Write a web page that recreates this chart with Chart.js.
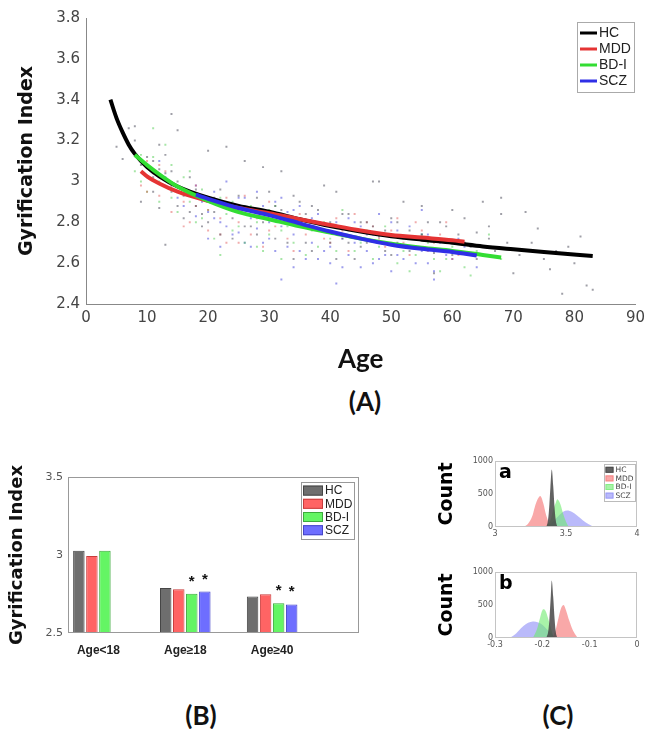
<!DOCTYPE html>
<html>
<head>
<meta charset="utf-8">
<script src="https://cdn.jsdelivr.net/npm/chart.js@4.4.1/dist/chart.umd.min.js"></script>
<style>
  html, body { margin: 0; padding: 0; background: #fff; }
  #page { position: relative; width: 650px; height: 729px; overflow: hidden; }
  canvas { position: absolute; }
  .tag { position: absolute; font-family: Lato, "Open Sans", sans-serif; font-weight: 700;
         font-size: 26px; color: #111; transform: translate(-50%, -50%); white-space: nowrap; }
</style>
</head>
<body>
<div id="page">
  <canvas id="chartA" width="650" height="375" style="left:0;top:0"></canvas>
  <div class="tag" style="left:365px;top:401px">(A)</div>
  <canvas id="chartB" width="370" height="215" style="left:0;top:450px"></canvas>
  <canvas id="chartCa" width="225" height="105" style="left:420px;top:440px"></canvas>
  <canvas id="chartCb" width="225" height="105" style="left:420px;top:551px"></canvas>
  <div class="tag" style="left:201px;top:715px">(B)</div>
  <div class="tag" style="left:558px;top:715px">(C)</div>
</div>
<script>
// ---------- (A) individual subjects: [age, gyrification index] ----------
const hcPts = [[5,3.17],[6,3.11],[7,3.26],[8,3.27],[8,3.20],[9,3.08],[9,2.90],[10,3.12],[10,3.02],[11,3.10],
  [11,2.95],[11,3.02],[12,3.06],[12,2.87],[12,3.18],[13,3.13],[13,3.04],[13,2.69],[14,3.33],[14,3.05],
  [14,2.95],[15,3.25],[15,2.88],[15,3.00],[16,2.93],[16,2.82],[17,2.85],[17,3.02],[18,2.96],[18,2.88],
  [19,2.84],[19,2.78],[20,3.15],[20,2.80],[21,2.92],[21,2.85],[22,2.74],[22,2.96],[23,3.17],[23,2.88],
  [24,2.82],[24,2.72],[25,2.93],[25,2.86],[26,3.10],[26,2.78],[27,2.85],[27,2.78],[28,2.92],[28,2.74],
  [29,3.07],[29,2.80],[30,2.83],[30,2.95],[31,2.72],[31,2.88],[32,3.05],[32,2.86],[33,2.70],[33,2.80],
  [34,2.93],[34,2.62],[35,2.80],[35,2.90],[36,2.70],[36,2.84],[37,2.88],[37,2.66],[38,2.76],[38,2.86],
  [39,2.98],[40,2.80],[40,2.70],[41,2.95],[41,2.62],[42,2.72],[42,2.84],[43,2.84],[43,2.70],[44,2.76],
  [44,2.62],[45,2.68],[45,2.80],[46,2.80],[46,2.70],[47,3.00],[47,2.78],[48,3.00],[48,2.73],[49,2.66],
  [49,2.76],[50,2.82],[50,2.64],[51,2.70],[51,2.80],[52,2.90],[53,2.76],[53,2.66],[54,2.68],[55,2.88],
  [55,2.74],[56,2.72],[56,2.80],[57,2.65],[57,2.55],[58,2.80],[59,2.70],[59,2.78],[60,2.86],[60,2.64],
  [61,2.74],[62,2.82],[62,2.70],[63,2.68],[64,2.75],[64,2.62],[65,2.90],[66,2.72],[66,2.78],[67,2.66],
  [68,2.92],[68,2.84],[69,2.70],[70,2.55],[71,2.64],[72,2.85],[73,2.70],[74,2.77],[75,2.62],[76,2.57],
  [77,2.66],[78,2.45],[79,2.68],[80,2.60],[81,2.73],[82,2.49],[83,2.47]];
const mddPts = [[9,2.98],[10,3.10],[10,2.95],[11,3.04],[12,2.93],[12,3.08],[13,3.05],[14,2.85],[14,2.98],
  [15,2.95],[16,2.90],[16,2.78],[17,2.80],[18,2.88],[18,2.98],[19,2.93],[20,2.76],[20,2.86],[21,2.90],
  [22,2.82],[22,2.74],[23,2.70],[23,2.92],[24,2.86],[25,2.80],[25,2.70],[26,2.93],[27,2.74],[27,2.86],
  [28,2.82],[29,2.68],[30,2.90],[30,2.76],[31,2.78],[32,2.84],[33,2.72],[34,2.66],[35,2.84],[36,2.74],
  [37,2.80],[38,2.80],[39,2.72],[40,2.70],[41,2.82],[42,2.76],[43,2.66],[44,2.84],[45,2.72],[46,2.80],
  [47,2.78],[48,2.72],[49,2.68],[50,2.76],[51,2.82],[52,2.70],[53,2.64],[54,2.80],[55,2.76],[56,2.66],
  [57,2.70],[58,2.74],[59,2.80],[60,2.62],[61,2.64],[62,2.70]];
const bdPts = [[8,3.05],[9,3.13],[9,3.00],[10,3.08],[10,2.95],[11,3.26],[11,3.12],[12,3.00],[12,2.90],
  [13,3.18],[14,3.08],[14,2.92],[15,2.85],[16,3.02],[17,2.90],[17,3.05],[18,2.80],[19,2.96],[19,2.82],
  [20,2.86],[21,2.72],[22,2.64],[22,2.92],[23,2.84],[24,2.90],[24,2.76],[25,2.78],[26,2.70],[26,2.86],
  [27,2.88],[28,2.80],[28,2.68],[29,2.66],[30,2.74],[30,2.86],[31,2.88],[32,2.62],[32,2.76],[33,2.78],
  [34,2.70],[34,2.82],[35,2.82],[36,2.64],[36,2.78],[37,2.76],[38,2.68],[39,2.80],[40,2.72],[41,2.66],
  [42,2.86],[43,2.76],[44,2.66],[45,2.70],[46,2.76],[47,2.62],[48,2.68],[49,2.78],[50,2.70],[51,2.60],
  [52,2.66],[53,2.56],[54,2.64],[55,2.74],[56,2.70],[57,2.62],[58,2.56],[59,2.62],[60,2.68],[61,2.66],
  [62,2.58],[63,2.54],[64,2.66],[66,2.74],[68,2.62]];
const sczPts = [[12,3.10],[13,3.02],[14,2.98],[15,2.92],[16,2.88],[17,2.95],[18,2.83],[18,2.98],[19,2.90],
  [20,2.85],[20,2.72],[21,2.95],[21,2.82],[22,2.80],[22,2.68],[23,3.00],[23,2.78],[24,2.86],[24,2.74],
  [25,2.75],[25,2.92],[26,2.92],[26,2.70],[27,2.82],[27,2.68],[28,2.95],[28,2.77],[29,2.88],[29,2.70],
  [30,2.80],[30,2.72],[31,2.90],[31,2.66],[32,2.78],[32,2.52],[32,2.92],[33,2.85],[33,2.68],[34,2.74],
  [34,2.58],[34,2.86],[35,2.88],[35,2.66],[36,2.78],[36,2.62],[37,2.70],[37,2.82],[38,2.84],[38,2.62],
  [39,2.76],[39,2.66],[40,2.68],[40,2.60],[41,2.80],[41,2.50],[42,2.72],[42,2.58],[43,2.82],[43,2.64],
  [44,2.70],[44,2.80],[45,2.78],[45,2.58],[46,2.66],[46,2.74],[47,2.74],[47,2.60],[48,2.84],[48,2.62],
  [49,2.70],[49,2.64],[50,2.80],[50,2.56],[51,2.64],[51,2.76],[52,2.72],[52,2.62],[53,2.78],[53,2.68],
  [54,2.60],[55,2.86],[55,2.66],[55,2.74],[56,2.74],[56,2.60],[57,2.56],[57,2.52],[58,2.70],[59,2.64],
  [60,2.62],[61,2.72],[62,2.68],[64,2.58]];

// ---------- (A) fitted curves ----------
const hcAge  = [4, 5, 6, 7, 8, 10, 12, 15, 20, 25, 30, 35, 40, 45, 50, 55, 60, 65, 70, 75, 83];
const hcFit  = [3.40, 3.31, 3.24, 3.18, 3.135, 3.07, 3.025, 2.975, 2.92, 2.88, 2.852, 2.815, 2.782, 2.755, 2.732, 2.715, 2.70, 2.682, 2.668, 2.655, 2.635];
const mddAge = [9, 10, 12, 15, 20, 25, 30, 35, 40, 45, 50, 55, 60, 62];
const mddFit = [3.05, 3.025, 2.99, 2.95, 2.905, 2.87, 2.845, 2.815, 2.787, 2.76, 2.738, 2.725, 2.712, 2.705];
const bdAge  = [8, 10, 12, 15, 20, 25, 30, 35, 40, 45, 50, 55, 60, 65, 68];
const bdFit  = [3.13, 3.08, 3.035, 2.975, 2.905, 2.85, 2.815, 2.78, 2.75, 2.72, 2.695, 2.675, 2.66, 2.64, 2.628];
const sczAge = [18, 20, 25, 30, 35, 40, 45, 50, 55, 60, 64];
const sczFit = [2.935, 2.915, 2.87, 2.835, 2.795, 2.755, 2.72, 2.69, 2.67, 2.655, 2.637];

// ---------- (B) group means ----------
const ageGroups = ['Age<18', 'Age\u226518', 'Age\u226540'];
const groupPos  = [1, 2, 3];
const barHC  = [3.027, 2.789, 2.734];
const barMDD = [2.994, 2.780, 2.749];
const barBD  = [3.027, 2.751, 2.690];
const barSCZ = [null, 2.766, 2.683];
const sigBD  = [false, true, true];
const sigSCZ = [false, true, true];

// ---------- (C) permutation histograms: [value, count] ----------
const histA_HC  = [[3.36,0],[3.37,60],[3.38,250],[3.39,600],[3.40,870],[3.41,620],[3.42,280],[3.43,70],[3.44,0]];
const histA_MDD = [[3.20,0],[3.23,40],[3.26,150],[3.28,300],[3.30,420],[3.32,470],[3.34,360],[3.36,180],[3.38,50],[3.39,0]];
const histA_BD  = [[3.36,0],[3.39,100],[3.41,260],[3.43,380],[3.44,420],[3.46,350],[3.48,200],[3.50,80],[3.52,0]];
const histA_SCZ = [[3.36,0],[3.40,60],[3.44,150],[3.48,230],[3.51,250],[3.54,230],[3.58,170],[3.62,100],[3.66,40],[3.70,0]];
const histB_HC  = [[-0.192,0],[-0.188,80],[-0.185,300],[-0.182,650],[-0.180,870],[-0.177,620],[-0.174,280],[-0.171,60],[-0.168,0]];
const histB_MDD = [[-0.178,0],[-0.172,120],[-0.166,300],[-0.160,460],[-0.155,500],[-0.150,420],[-0.143,260],[-0.135,110],[-0.127,20],[-0.122,0]];
const histB_BD  = [[-0.220,0],[-0.212,120],[-0.205,300],[-0.199,430],[-0.194,420],[-0.188,300],[-0.182,150],[-0.176,0]];
const histB_SCZ = [[-0.270,0],[-0.260,40],[-0.250,110],[-0.240,180],[-0.230,230],[-0.220,250],[-0.210,240],[-0.200,200],[-0.190,130],[-0.180,60],[-0.172,0]];

Chart.defaults.font.family = '"DejaVu Sans", sans-serif';
Chart.defaults.animation = false;
Chart.defaults.plugins.legend.display = false;
Chart.defaults.plugins.tooltip.enabled = false;

const xy = (arr) => arr.map(p => ({ x: p[0], y: p[1] }));
const zip = (xs, ys) => xs.map((x, i) => ({ x: x, y: ys[i] }));
const num = (v) => String(+(+v).toFixed(2));

// box round the plot area (MATLAB "box on")
const frame = {
  id: 'frame',
  afterDatasetsDraw(chart, args, o) {
    if (!o.color) return;
    const { left, top, right, bottom } = chart.chartArea;
    const ctx = chart.ctx;
    ctx.save();
    ctx.strokeStyle = o.color;
    ctx.lineWidth = 1;
    ctx.strokeRect(left + 0.5, top + 0.5, right - left - 1, bottom - top - 1);
    ctx.restore();
  }
};

// legend drawn inside the plot, top right, with a thin border
const boxLegend = {
  id: 'boxLegend',
  afterDatasetsDraw(chart, args, o) {
    if (!o.font) return;
    const items = chart.data.datasets.filter(d => d.legendItem);
    const ctx = chart.ctx;
    ctx.save();
    ctx.font = o.font;
    let tw = 0;
    items.forEach(d => { tw = Math.max(tw, ctx.measureText(d.label).width); });
    const w = Math.round(o.pad * 2 + o.swatch[0] + o.gap + tw);
    const h = Math.round(o.pad * 2 + items.length * o.row);
    const x0 = Math.round(chart.chartArea.right - o.dx - w);
    const y0 = Math.round(chart.chartArea.top + o.dy);
    ctx.fillStyle = '#fff';
    ctx.fillRect(x0, y0, w, h);
    ctx.strokeStyle = o.border;
    ctx.lineWidth = 1;
    ctx.strokeRect(x0 + 0.5, y0 + 0.5, w, h);
    items.forEach((d, i) => {
      const cy = y0 + o.pad + i * o.row + o.row / 2;
      const sx = x0 + o.pad;
      if (o.kind === 'line') {
        ctx.strokeStyle = d.borderColor;
        ctx.lineWidth = o.swatch[1];
        ctx.beginPath();
        ctx.moveTo(sx, cy);
        ctx.lineTo(sx + o.swatch[0], cy);
        ctx.stroke();
      } else {
        ctx.fillStyle = d.backgroundColor;
        ctx.fillRect(sx, cy - o.swatch[1] / 2, o.swatch[0], o.swatch[1]);
        ctx.strokeStyle = d.borderColor || '#666';
        ctx.lineWidth = 1;
        ctx.strokeRect(sx + 0.5, cy - o.swatch[1] / 2 + 0.5, o.swatch[0] - 1, o.swatch[1] - 1);
      }
      ctx.fillStyle = o.color;
      ctx.textBaseline = 'middle';
      ctx.fillText(d.label, sx + o.swatch[0] + o.gap, cy + 0.5);
    });
    ctx.restore();
  }
};

// asterisks over significant bars
const sigMarks = {
  id: 'sigMarks',
  afterDatasetsDraw(chart) {
    const ctx = chart.ctx;
    chart.data.datasets.forEach((d, di) => {
      if (!d.sig) return;
      chart.getDatasetMeta(di).data.forEach((bar, j) => {
        if (!d.sig[j]) return;
        ctx.save();
        ctx.fillStyle = '#111';
        ctx.font = 'bold 15px "Liberation Sans"';
        ctx.textAlign = 'center';
        ctx.fillText('*', bar.x, bar.y - 8);
        ctx.restore();
      });
    });
  }
};

// small letter in the plot corner (a / b)
const cornerTag = {
  id: 'cornerTag',
  afterDraw(chart, args, o) {
    if (!o.text) return;
    const ctx = chart.ctx;
    ctx.save();
    ctx.fillStyle = '#000';
    ctx.font = 'bold 19px "DejaVu Sans"';
    ctx.fillText(o.text, chart.chartArea.left + 4, chart.chartArea.top + 17);
    ctx.restore();
  }
};

// ================= (A) =================
function dots(label, pts, color) {
  return { label: label, data: xy(pts), backgroundColor: color, borderWidth: 0,
           pointStyle: 'rect', pointRadius: 1.4, order: 10 };
}
function curve(label, ages, fit, color, order) {
  return { label: label, data: zip(ages, fit), showLine: true, borderColor: color, backgroundColor: color,
           borderWidth: 4, pointRadius: 0, cubicInterpolationMode: 'monotone', order: order, legendItem: true };
}

new Chart(document.getElementById('chartA'), {
  type: 'scatter',
  data: {
    datasets: [
      curve('HC', hcAge, hcFit, '#000000', 4),
      curve('MDD', mddAge, mddFit, '#e53434', 3),
      curve('BD-I', bdAge, bdFit, '#33dd33', 2),
      curve('SCZ', sczAge, sczFit, '#2f2fe6', 1),
      dots('hc', hcPts, 'rgba(80,80,95,0.55)'),
      dots('mdd', mddPts, 'rgba(225,70,70,0.45)'),
      dots('bd', bdPts, 'rgba(60,200,60,0.45)'),
      dots('scz', sczPts, 'rgba(60,60,220,0.5)')
    ]
  },
  options: {
    responsive: false,
    layout: { padding: { left: 16, right: 12, top: 18, bottom: 0 } },
    scales: {
      x: {
        type: 'linear', min: 0, max: 90,
        afterFit: (s) => { s.height = 71; },
        grid: { display: false, drawTicks: false },
        border: { display: true, color: '#888' },
        ticks: { stepSize: 10, padding: 5, color: '#444', font: { size: 15 } },
        title: { display: true, text: 'Age', color: '#111', padding: 0,
                 font: { family: 'Lato, "Open Sans", sans-serif', size: 26, weight: 'bold' } }
      },
      y: {
        min: 2.4, max: 3.8,
        afterFit: (s) => { s.width = 70; },
        grid: { display: false, drawTicks: false },
        border: { display: true, color: '#888' },
        ticks: { stepSize: 0.2, padding: 6, color: '#444', font: { size: 15 }, callback: num },
        title: { display: true, text: 'Gyrification Index', color: '#111', padding: 0,
                 font: { size: 19, weight: 'bold' } }
      }
    },
    plugins: {
      boxLegend: { font: '14px "Liberation Sans"', color: '#222', border: '#aaa', kind: 'line',
                   pad: 3, row: 16, gap: 2, swatch: [17, 3], dx: 1, dy: 4 }
    }
  },
  plugins: [boxLegend]
});

// ================= (B) =================
function bars(label, vals, fill, edge, sig) {
  return { label: label, data: zip(groupPos, vals), backgroundColor: fill, borderColor: edge,
           borderWidth: 1, base: 2.5, legendItem: true, sig: sig };
}

new Chart(document.getElementById('chartB'), {
  type: 'bar',
  data: {
    datasets: [
      bars('HC', barHC, 'rgb(110,110,110)', 'rgb(70,70,70)'),
      bars('MDD', barMDD, 'rgb(255,100,100)', 'rgb(200,60,60)'),
      bars('BD-I', barBD, 'rgb(100,245,100)', 'rgb(60,170,60)', sigBD),
      bars('SCZ', barSCZ, 'rgb(110,110,255)', 'rgb(70,70,200)', sigSCZ)
    ]
  },
  options: {
    responsive: false,
    categoryPercentage: 0.6,
    barPercentage: 0.88,
    layout: { padding: { left: 7, right: 11, top: 27, bottom: 0 } },
    scales: {
      x: {
        type: 'linear', min: 0.65, max: 4, offset: false,
        afterFit: (s) => { s.height = 32; },
        afterBuildTicks: (s) => { s.ticks = groupPos.map(v => ({ value: v })); },
        grid: { display: false, drawTicks: false },
        border: { display: false },
        ticks: { padding: 10, color: '#222', font: { family: '"Liberation Sans"', size: 12, weight: 'bold' },
                 callback: (v) => ageGroups[groupPos.indexOf(v)] }
      },
      y: {
        min: 2.5, max: 3.5,
        afterFit: (s) => { s.width = 61; },
        afterBuildTicks: (s) => { s.ticks = [2.5, 3, 3.5].map(v => ({ value: v })); },
        grid: { display: false, drawTicks: false },
        border: { display: false },
        ticks: { padding: 5, color: '#555', font: { size: 11 }, callback: num },
        title: { display: true, text: 'Gyrification Index', color: '#111', padding: 0,
                 font: { size: 18, weight: 'bold' } }
      }
    },
    plugins: {
      frame: { color: '#999' },
      boxLegend: { font: '12px "Liberation Sans"', color: '#222', border: '#999', kind: 'box',
                   pad: 2, row: 13.2, gap: 2, swatch: [20, 10], dx: 5, dy: 5 }
    }
  },
  plugins: [frame, boxLegend, sigMarks]
});

// ================= (C) =================
function area(label, pts, color, order) {
  return { label: label, data: xy(pts), backgroundColor: color, borderColor: color, borderWidth: 0,
           fill: 'origin', pointRadius: 0, tension: 0.35, order: order, legendItem: true };
}
function histChart(id, xMin, xMax, xTicks, sets, tag, withLegend) {
  new Chart(document.getElementById(id), {
    type: 'line',
    data: {
      datasets: [
        area('HC', sets[0], 'rgba(70,70,70,0.85)', 1),
        area('MDD', sets[1], 'rgba(245,110,110,0.6)', 3),
        area('BD-I', sets[2], 'rgba(110,235,110,0.6)', 2),
        area('SCZ', sets[3], 'rgba(130,130,245,0.55)', 4)
      ]
    },
    options: {
      responsive: false,
      layout: { padding: { left: 16, right: 8, top: 21, bottom: 0 } },
      scales: {
        x: {
          type: 'linear', min: xMin, max: xMax,
          afterFit: (s) => { s.height = 18; },
          afterBuildTicks: (s) => { s.ticks = xTicks.map(v => ({ value: v })); },
          grid: { display: false, drawTicks: false },
          border: { display: false },
          ticks: { padding: 2, color: '#555', font: { size: 8 }, callback: num }
        },
        y: {
          min: 0, max: 1000,
          afterFit: (s) => { s.width = 59; },
          afterBuildTicks: (s) => { s.ticks = [0, 500, 1000].map(v => ({ value: v })); },
          grid: { display: false, drawTicks: false },
          border: { display: false },
          ticks: { padding: 2, color: '#555', font: { size: 8 }, callback: num },
          title: { display: true, text: 'Count', color: '#000', padding: 0,
                   font: { size: 19, weight: 'bold' } }
        }
      },
      plugins: {
        frame: { color: '#c4c4c4' },
        cornerTag: { text: tag },
        boxLegend: withLegend ? { font: '7.5px "DejaVu Sans"', color: '#444', border: '#bbb', kind: 'box',
                                  pad: 1.5, row: 8.6, gap: 2, swatch: [8, 6], dx: 2, dy: 3 } : {}
      }
    },
    plugins: [frame, boxLegend, cornerTag]
  });
}

histChart('chartCa', 3, 4, [3, 3.5, 4], [histA_HC, histA_MDD, histA_BD, histA_SCZ], 'a', true);
histChart('chartCb', -0.3, 0, [-0.3, -0.2, -0.1, 0], [histB_HC, histB_MDD, histB_BD, histB_SCZ], 'b', false);
</script>
</body>
</html>
